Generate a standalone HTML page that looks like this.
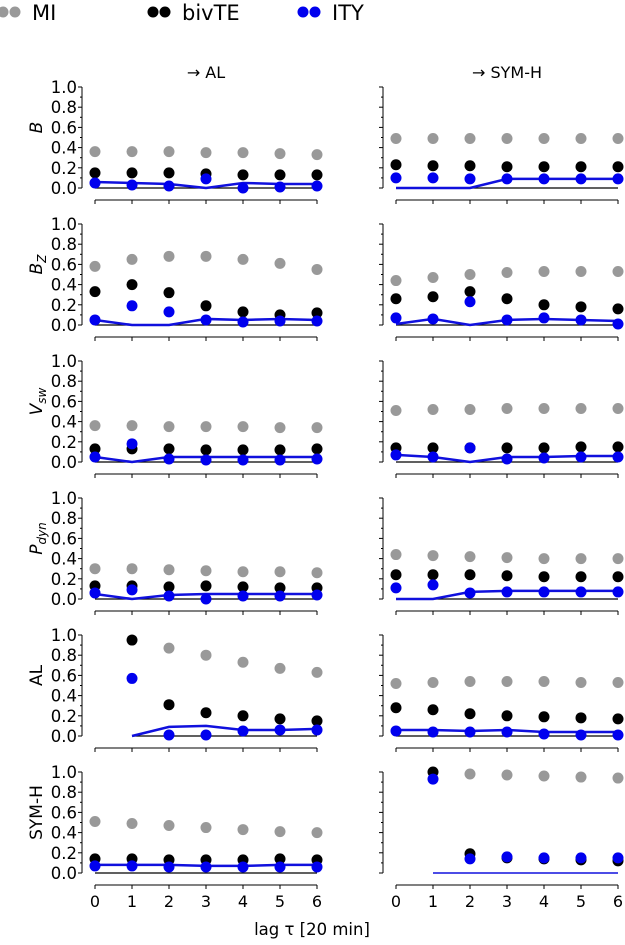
<!DOCTYPE html>
<html><head><meta charset="utf-8"><style>
html,body{margin:0;padding:0;background:#fff;}
svg{display:block;font-family:"DejaVu Sans","Liberation Sans",sans-serif;}
</style></head><body>
<svg id="fig" width="625" height="945" xmlns="http://www.w3.org/2000/svg"></svg>
<script>
const lags = [0,1,2,3,4,5,6];
const rowNames = ["B","Bz","Vsw","Pdyn","AL","SYM-H"];
const colNames = ["→ AL","→ SYM-H"];
const tickLabels = ["0.0","0.2","0.4","0.6","0.8","1.0"];
const N = null;
const miVals = [
 [[.36,.36,.36,.35,.35,.34,.33],[.49,.49,.49,.49,.49,.49,.49]],
 [[.58,.65,.68,.68,.65,.61,.55],[.44,.47,.50,.52,.53,.53,.53]],
 [[.36,.36,.35,.35,.35,.34,.34],[.51,.52,.52,.53,.53,.53,.53]],
 [[.30,.30,.29,.28,.27,.27,.26],[.44,.43,.42,.41,.40,.40,.40]],
 [[N,N,.87,.80,.73,.67,.63],[.52,.53,.54,.54,.54,.53,.53]],
 [[.51,.49,.47,.45,.43,.41,.40],[N,N,.98,.97,.96,.95,.94]]
];
const tebVals = [
 [[.15,.15,.15,.14,.13,.13,.13],[.23,.22,.22,.21,.21,.21,.21]],
 [[.33,.40,.32,.19,.13,.10,.12],[.26,.28,.33,.26,.20,.18,.16]],
 [[.13,.13,.13,.12,.12,.12,.13],[.14,.14,.14,.14,.14,.15,.15]],
 [[.13,.13,.12,.13,.12,.11,.11],[.24,.24,.24,.23,.22,.22,.22]],
 [[N,.95,.31,.23,.20,.17,.15],[.28,.26,.22,.20,.19,.18,.17]],
 [[.14,.14,.13,.13,.13,.14,.13],[N,1.0,.19,.15,.14,.13,.12]]
];
const ityVals = [
 [[.05,.03,.02,.09,0,.01,.02],[.10,.10,.09,.09,.09,.09,.09]],
 [[.05,.19,.13,.05,.03,.04,.04],[.07,.06,.23,.05,.07,.05,.01]],
 [[.05,.18,.03,.02,.02,.02,.03],[.07,.05,.14,.03,.04,.05,.05]],
 [[.06,.09,.03,0,.03,.03,.04],[.11,.14,.06,.07,.07,.07,.07]],
 [[N,.57,.01,.01,.05,.06,.06],[.05,.04,.04,.04,.02,.01,.01]],
 [[.07,.07,.06,.06,.06,.06,.06],[N,.93,.14,.16,.15,.15,.15]]
];
const lineVals = [
 [[.06,.05,.04,0,.05,.04,.04],[0,0,0,.09,.09,.09,.09]],
 [[.05,0,0,.06,.05,.06,.05],[.01,.06,0,.05,.06,.05,.04]],
 [[.05,0,.05,.05,.05,.05,.05],[.07,.05,0,.05,.05,.06,.06]],
 [[.05,0,.04,.05,.05,.05,.05],[0,0,.07,.08,.08,.08,.08]],
 [[N,0,.09,.10,.06,.06,.07],[.06,.06,.05,.06,.04,.04,.04]],
 [[.08,.08,.08,.07,.07,.08,.08],[N,0,0,0,0,0,0]]
];

const NS="http://www.w3.org/2000/svg";
const svg=document.getElementById('fig');
function mk(tag,attrs,parent){const e=document.createElementNS(NS,tag);for(const k in attrs)e.setAttribute(k,attrs[k]);(parent||svg).appendChild(e);return e;}
const colX0=[95,396], colDX=(317-95)/6, spineX=[82,383];
const rowTop=87, rowH=101, rowP=137;
function xs(c,t){return colX0[c]+t*colDX;}
function ys(r,v){return rowTop+r*rowP+rowH-v*rowH;}

const legend=[["MI","#999999",0],["bivTE","#000000",150],["ITY","#0000ee",300]];
legend.forEach(l=>{
  const g=mk('g',{});
  
  
  mk('circle',{cx:l[2]+3,cy:12,r:5.5,fill:l[1]},g);
  mk('circle',{cx:l[2]+15,cy:12,r:5.5,fill:l[1]},g);
  const t=mk('text',{x:l[2]+32,y:20,'font-size':21,fill:'#000'},g);t.textContent=l[0];
});
colNames.forEach((n,c)=>{
  const t=mk('text',{x:(colX0[c]+colX0[c]+6*colDX)/2,y:78,'font-size':16,'text-anchor':'middle'});
  
  
  t.textContent=n;
});
const rowLabelHTML=[["B",null,true],["B","Z",true],["V","sw",true],["P","dyn",true],["AL",null,false],["SYM-H",null,false]];
rowLabelHTML.forEach((rl,r)=>{
  const cy=rowTop+r*rowP+rowH/2-10;
  const t=mk('text',{x:0,y:0,'font-size':17,'text-anchor':'middle',transform:`translate(42,${cy}) rotate(-90)`,'font-style':rl[2]?'italic':'normal'});
  
  
  t.textContent=rl[0];
  if(rl[1]){const s=mk('tspan',{'font-size':12,dy:4},t);s.textContent=rl[1];}
});

for(let r=0;r<6;r++){for(let c=0;c<2;c++){
  const g=mk('g',{});
  
  
  const top=rowTop+r*rowP, bot=top+rowH;
  mk('line',{x1:spineX[c],x2:spineX[c],y1:top,y2:bot,stroke:'#000','stroke-width':1},g);
  for(let i=0;i<=10;i++){const y=ys(r,i/10);mk('line',{x1:spineX[c]-(i%2?2:4),x2:spineX[c],y1:y,y2:y,stroke:'#000','stroke-width':1},g);}
  if(c===0){tickLabels.forEach((tl,i)=>{const t=mk('text',{x:spineX[c]-5,y:ys(r,i*0.2)+6,'font-size':16.5,'text-anchor':'end'},g);t.textContent=tl;});}
  const xa=bot+12;
  mk('line',{x1:xs(c,0),x2:xs(c,6),y1:xa,y2:xa,stroke:'#000','stroke-width':1},g);
  lags.forEach(t=>{mk('line',{x1:xs(c,t),x2:xs(c,t),y1:xa,y2:xa+4,stroke:'#000','stroke-width':1},g);
    if(r===5){const tx=mk('text',{x:xs(c,t),y:xa+22,'font-size':16,'text-anchor':'middle'},g);tx.textContent=t;}});
  const lv=lineVals[r][c];
  let first=lv.findIndex(v=>v!==null);
  const isThin=(r===5&&c===1);
  if(!isThin){const bl=mk('line',{x1:xs(c,first),x2:xs(c,6),y1:ys(r,0),y2:ys(r,0),stroke:'#000','stroke-width':1.2},g);
    }
  const pts=[];lags.forEach((t,i)=>{if(lv[i]!==null)pts.push(xs(c,t)+','+ys(r,lv[i]));});
  const pl=mk('polyline',{points:pts.join(' '),fill:'none',stroke:'#1010dd','stroke-width':isThin?1.5:2.5},g);
  
  
  [[miVals,'#999999','mi'],[tebVals,'#000000','bivte'],[ityVals,'#0000ee','ity']].forEach(s=>{
    const arr=s[0][r][c];
    lags.forEach((t,i)=>{if(arr[i]===null)return;
      const d=mk('circle',{cx:xs(c,t),cy:ys(r,arr[i]),r:5.5,fill:s[1]},g);
      
      
    });
  });
}}
const xl=mk('text',{x:312,y:935,'font-size':16.5,'text-anchor':'middle'});


xl.textContent='lag τ [20 min]';
</script>
</body></html>
